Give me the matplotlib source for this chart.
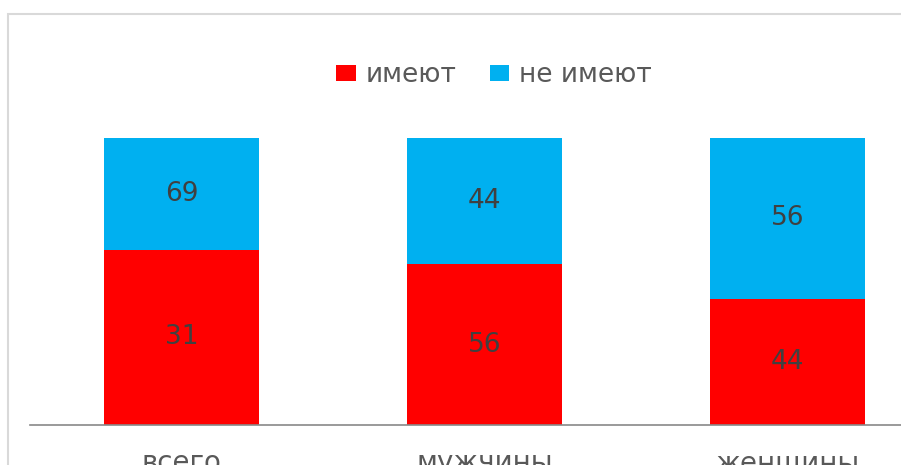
import matplotlib
matplotlib.use("Agg")
import matplotlib.pyplot as plt
from matplotlib.patches import Rectangle

# data (bar heights as drawn, labels as printed on the chart)
categories = ["всего", "мужчины", "женщины"]
imeyut = [61, 56, 44]
ne_imeyut = [39, 44, 56]
imeyut_labels = ["31", "56", "44"]
ne_imeyut_labels = ["69", "44", "56"]

RED = "#ff0000"
BLUE = "#00b0f0"
TXT = "#404040"
TICK = "#595959"

W, H = 901, 465
fig = plt.figure(figsize=(W / 100, H / 100), dpi=100)
plt.rcParams["font.family"] = ["DejaVu Sans"]

# outer chart frame (cropped on right/bottom)
fig.patches.append(Rectangle((8 / W, -0.1), 1.2, 1 - 14 / H + 0.1,
                             transform=fig.transFigure, fill=False,
                             edgecolor="#d9d9d9", linewidth=1.5))

ax = fig.add_axes([30 / W, (H - 425) / H, 909 / W, 287 / H])
x = range(len(categories))
b1 = ax.bar(x, imeyut, width=0.51, color=RED, label="имеют")
b2 = ax.bar(x, ne_imeyut, width=0.51, bottom=imeyut, color=BLUE, label="не имеют")

for i in x:
    ax.text(i, imeyut[i] / 2, imeyut_labels[i], ha="center", va="center",
            fontsize=19, color=TXT)
    ax.text(i, imeyut[i] + ne_imeyut[i] / 2, ne_imeyut_labels[i], ha="center",
            va="center", fontsize=19, color=TXT)

ax.set_xlim(-0.5, 2.5)
ax.set_ylim(0, 100)
ax.set_xticks(list(x))
ax.set_xticklabels(categories, fontsize=20, color=TICK)
ax.tick_params(axis="x", length=0, pad=17)
ax.set_yticks([])
for s in ["top", "right", "left"]:
    ax.spines[s].set_visible(False)
ax.spines["bottom"].set_color("#898989")
ax.spines["bottom"].set_linewidth(1.2)

fig.legend(handles=[b1, b2], loc="center", bbox_to_anchor=(494 / W, 1 - 75 / H),
           ncol=2, frameon=False, fontsize=19, labelcolor=TICK,
           handlelength=0.75, handleheight=0.55, handletextpad=0.38,
           columnspacing=1.25)

fig.savefig("out.png", dpi=100)
